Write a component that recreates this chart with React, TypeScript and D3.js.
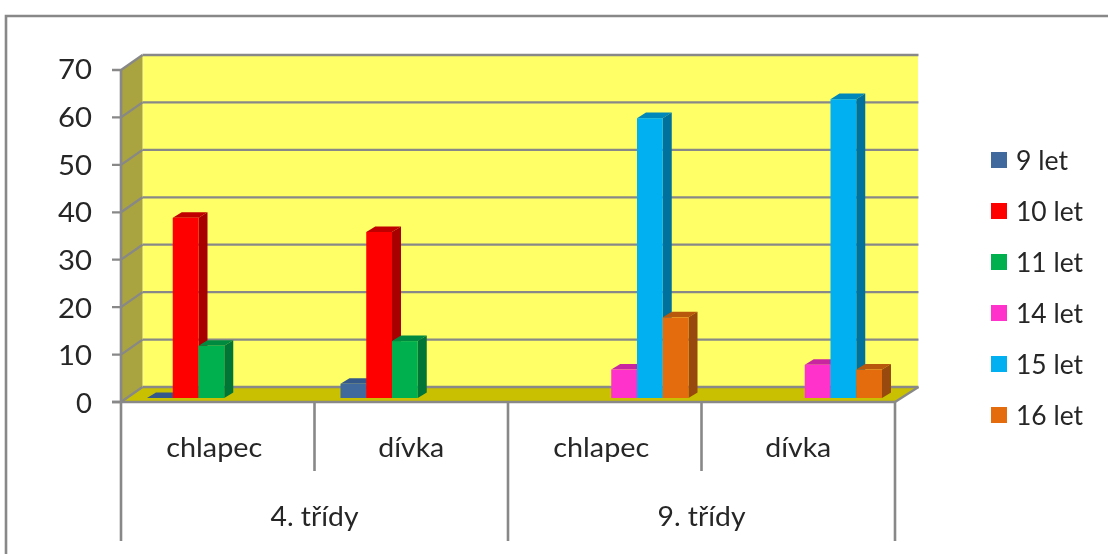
import React from "react";
import * as d3 from "d3";

const groups = ["4. třídy", "9. třídy"];
const categories = ["chlapec", "dívka", "chlapec ", "dívka "];
const seriesNames = ["9 let", "10 let", "11 let", "14 let", "15 let", "16 let"];
const s9 = [0, 3, 0, 0];
const s10 = [38, 35, 0, 0];
const s11 = [11, 12, 0, 0];
const s14 = [0, 0, 6, 7];
const s15 = [0, 0, 59, 63];
const s16 = [0, 0, 17, 6];
const seriesValues = [s9, s10, s11, s14, s15, s16];
const hidden = [[2, 3], [2, 3], [2, 3], [0, 1], [0, 1], [0, 1]];
const fronts = ["#41699E", "#FF0000", "#00B050", "#FF33CC", "#00B0F0", "#E46C0A"];
const sides = ["#2F4E78", "#A80000", "#007434", "#A8228A", "#00719C", "#984807"];
const tops = ["#34588A", "#C00000", "#008A40", "#C828A0", "#0088BA", "#B85808"];
const ticks = [0, 10, 20, 30, 40, 50, 60, 70];

const W = 1108, H = 554;
const GRID = "#888888";
const FONT = "Lato, 'Open Sans', sans-serif";
const TEXT = "#262626";
const dx = 21.5, dy = -15;
const barDx = 9, barDy = -5.6, lift = 4;

const y = d3.scaleLinear().domain([0, 70]).range([402, 70]);
const labelY = d3.scaleLinear().domain([0, 70]).range([404, 70]);
const x0 = d3.scaleBand<string>().domain(categories).range([121, 895]);
const x1 = d3.scaleBand<string>().domain(seriesNames).range([26, 180.5]);
const legendY = d3.scalePoint<string>().domain(seriesNames).range([160, 415]);

const poly = (pts: number[][]) => pts.map((p) => p.join(",")).join(" ");

export default function App() {
  const left = 121, right = 895, base = y(0);
  const w = x1.bandwidth();
  return (
    <svg width={W} height={H} style={{ position: "absolute", left: 0, top: 0, background: "#fff" }}
      fontFamily={FONT}>
      <defs>
        <filter id="soft" x="-2%" y="-2%" width="104%" height="104%">
          <feGaussianBlur stdDeviation="0.55" />
        </filter>
      </defs>
      <g filter="url(#soft)">
        <polyline points={poly([[6, H], [6, 16], [W, 16]])} fill="none" stroke={GRID} strokeWidth={2.6} />
        <rect x={left + dx} y={y(70) + dy} width={right - left + 1.5} height={y(0) - y(70)} fill="#FFFF66" />
        <polygon points={poly([[left, y(70)], [left + dx, y(70) + dy], [left + dx, base + dy], [left, base]])} fill="#A9A33F" />
        <polygon points={poly([[left, base], [right, base], [right + dx + 2, base + dy], [left + dx, base + dy]])} fill="#C8C000" />
        {ticks.map((t) => (
          <g key={t}>
            <line x1={left + dx} x2={right + dx + 2} y1={y(t) + dy} y2={y(t) + dy} stroke={GRID} strokeWidth={2.3} />
            <polyline points={poly([[112, y(t)], [left, y(t)], [left + dx, y(t) + dy]])} fill="none" stroke={GRID} strokeWidth={2.3} />
            <text x={92} y={labelY(t)} dy="0.35em" textAnchor="end" fontSize={26} fill={TEXT}
              textLength={t === 0 ? 16 : 34} lengthAdjust="spacingAndGlyphs">{t}</text>
          </g>
        ))}
        <line x1={right} x2={right + dx + 2} y1={base} y2={base + dy} stroke={GRID} strokeWidth={2.3} />
        {categories.map((c, ci) =>
          seriesNames.map((s, si) => {
            if (hidden[si].includes(ci)) return null;
            const xl = (x0(c) as number) + (x1(s) as number);
            const xr = xl + w;
            const yb = y(0) - lift;
            const yt = y(seriesValues[si][ci]) - lift;
            return (
              <g key={c + s}>
                <polygon points={poly([[xl, yt], [xr, yt], [xr + barDx, yt + barDy], [xl + barDx, yt + barDy]])} fill={tops[si]} />
                <polygon points={poly([[xr, yt], [xr + barDx, yt + barDy], [xr + barDx, yb + barDy], [xr, yb]])} fill={sides[si]} />
                <rect x={xl} y={yt} width={w} height={yb - yt} fill={fronts[si]} />
              </g>
            );
          })
        )}
        <line x1={left} x2={left} y1={y(70)} y2={541} stroke={GRID} strokeWidth={2.6} />
        <line x1={112} x2={right} y1={base} y2={base} stroke={GRID} strokeWidth={2.6} />
        <line x1={right} x2={right} y1={base} y2={541} stroke={GRID} strokeWidth={2.6} />
        <line x1={(left + right) / 2} x2={(left + right) / 2} y1={base} y2={541} stroke={GRID} strokeWidth={2.6} />
        {[categories[1], categories[3]].map((c) => (
          <line key={c} x1={x0(c)} x2={x0(c)} y1={base} y2={471} stroke={GRID} strokeWidth={2.6} />
        ))}
        {categories.map((c) => {
          const isBoy = c.trim() === "chlapec";
          return (
            <text key={c} x={(x0(c) as number) + x0.bandwidth() / 2 - (isBoy ? 3.5 : 0)} y={457} textAnchor="middle" fontSize={26} fill={TEXT}
              textLength={isBoy ? 96 : 66} lengthAdjust="spacingAndGlyphs">{c.trim()}</text>
          );
        })}
        {groups.map((g, i) => (
          <text key={g} x={left + (right - left) * (i + 0.5) / 2} y={526} textAnchor="middle" fontSize={26} fill={TEXT}
            textLength={88} lengthAdjust="spacingAndGlyphs">{g}</text>
        ))}
        {seriesNames.map((s, i) => (
          <g key={s}>
            <rect x={991} y={(legendY(s) as number) - 8} width={16} height={16} fill={fronts[i]} />
            <text x={1016} y={(legendY(s) as number) + 0.5} dy="0.35em" fontSize={26} fill={TEXT}
              textLength={s.length === 5 ? 52 : 67} lengthAdjust="spacingAndGlyphs">{s}</text>
          </g>
        ))}
      </g>
    </svg>
  );
}
